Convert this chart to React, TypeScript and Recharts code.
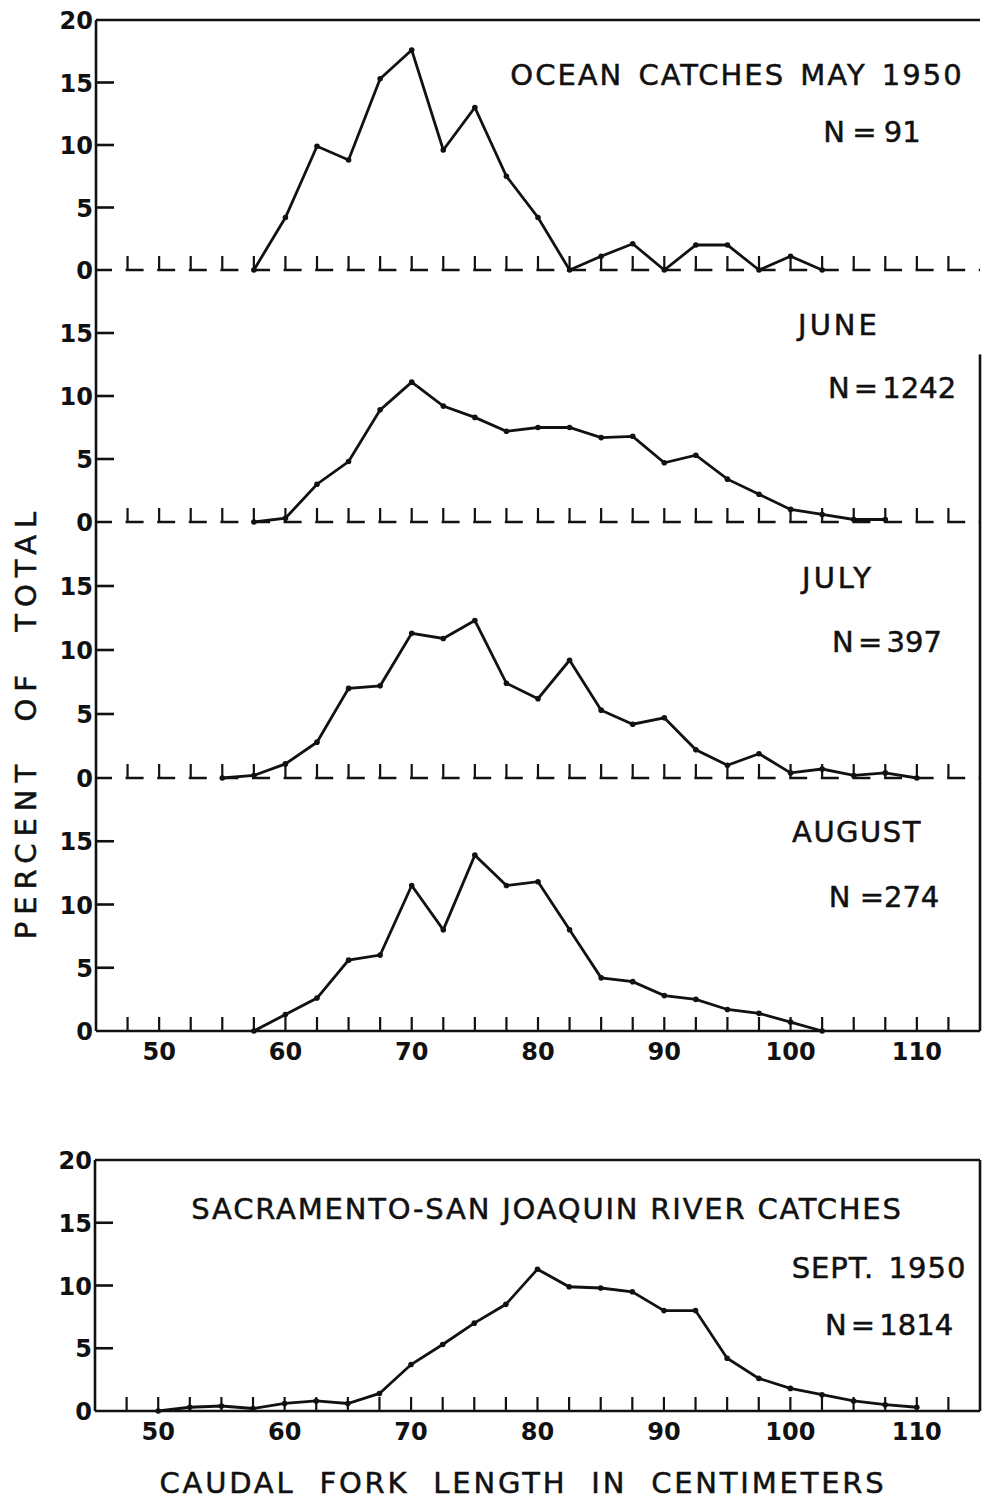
import { LineChart, Line, XAxis, YAxis, ReferenceLine } from "recharts";

const INK = "#111";
const FONT = "'DejaVu Sans', sans-serif";

// fork length classes (cm) and percent of total, by month
const mayLen = [57.5, 60, 62.5, 65, 67.5, 70, 72.5, 75, 77.5, 80, 82.5, 85, 87.5, 90, 92.5, 95, 97.5, 100, 102.5];
const mayPct = [0, 4.2, 9.9, 8.8, 15.3, 17.6, 9.6, 13.0, 7.5, 4.2, 0, 1.1, 2.1, 0, 2.0, 2.0, 0, 1.1, 0];

const juneLen = [57.5, 60, 62.5, 65, 67.5, 70, 72.5, 75, 77.5, 80, 82.5, 85, 87.5, 90, 92.5, 95, 97.5, 100, 102.5, 105, 107.5];
const junePct = [0, 0.3, 3.0, 4.8, 8.9, 11.1, 9.2, 8.3, 7.2, 7.5, 7.5, 6.7, 6.8, 4.7, 5.3, 3.4, 2.2, 1.0, 0.6, 0.2, 0.2];

const julyLen = [55, 57.5, 60, 62.5, 65, 67.5, 70, 72.5, 75, 77.5, 80, 82.5, 85, 87.5, 90, 92.5, 95, 97.5, 100, 102.5, 105, 107.5, 110];
const julyPct = [0, 0.2, 1.1, 2.8, 7.0, 7.2, 11.3, 10.9, 12.3, 7.4, 6.2, 9.2, 5.3, 4.2, 4.7, 2.2, 1.0, 1.9, 0.4, 0.7, 0.2, 0.4, 0];

const augLen = [57.5, 60, 62.5, 65, 67.5, 70, 72.5, 75, 77.5, 80, 82.5, 85, 87.5, 90, 92.5, 95, 97.5, 100, 102.5];
const augPct = [0, 1.3, 2.6, 5.6, 6.0, 11.5, 8.0, 13.9, 11.5, 11.8, 8.0, 4.2, 3.9, 2.8, 2.5, 1.7, 1.4, 0.7, 0];

const septLen = [50, 52.5, 55, 57.5, 60, 62.5, 65, 67.5, 70, 72.5, 75, 77.5, 80, 82.5, 85, 87.5, 90, 92.5, 95, 97.5, 100, 102.5, 105, 107.5, 110];
const septPct = [0, 0.3, 0.4, 0.2, 0.6, 0.8, 0.6, 1.4, 3.7, 5.3, 7.0, 8.5, 11.3, 9.9, 9.8, 9.5, 8.0, 8.0, 4.2, 2.6, 1.8, 1.3, 0.8, 0.5, 0.3];

const xTicks = [47.5, 50, 52.5, 55, 57.5, 60, 62.5, 65, 67.5, 70, 72.5, 75, 77.5, 80, 82.5, 85, 87.5, 90, 92.5, 95, 97.5, 100, 102.5, 105, 107.5, 110, 112.5];
const xLabels = [50, 60, 70, 80, 90, 100, 110];
const yTicksFull = [0, 5, 10, 15, 20];
const yTicks = [0, 5, 10, 15];

const M_TOP = 12;
const AX_H = 44;

function XTick(props: any) {
  const { x, y, payload, labels } = props;
  const v = payload.value;
  return (
    <g>
      <line x1={x} x2={x} y1={y} y2={y - 14} stroke={INK} strokeWidth={2.2} />
      {labels && xLabels.includes(v) && (
        <text x={x} y={y + 29} textAnchor="middle" fontSize={24} fontWeight="bold" fontFamily={FONT} fill={INK}>
          {v}
        </text>
      )}
    </g>
  );
}

function YTick(props: any) {
  const { x, y, payload } = props;
  const v = payload.value;
  return (
    <g>
      <text x={x} y={y + 9} textAnchor="end" fontSize={24} fontWeight="bold" fontFamily={FONT} fill={INK}>
        {v}
      </text>
      {v > 0 && v < 20 && <line x1={x + 3} x2={x + 21} y1={y} y2={y} stroke={INK} strokeWidth={2.6} />}
    </g>
  );
}

type PanelProps = {
  len: number[];
  pct: number[];
  top: number;
  bottom: number;
  left?: number;
  ticks: number[];
  dashed?: boolean;
  labels?: boolean;
  frameTop?: boolean;
  rightFrom?: number | null;
};

function Panel({ len, pct, top, bottom, left = 96, ticks, dashed, labels, frameTop, rightFrom }: PanelProps) {
  const rows = len.map((l, i) => ({ len: l, pct: pct[i] }));
  const axisLine = dashed
    ? { stroke: INK, strokeWidth: 2.4, strokeDasharray: "18 13.6", strokeDashoffset: 2 }
    : { stroke: INK, strokeWidth: 2.6 };
  return (
    <div style={{ position: "absolute", left: 0, top: top - M_TOP }}>
      <LineChart
        width={983}
        height={M_TOP + (bottom - top) + AX_H}
        data={rows}
        margin={{ top: M_TOP, right: 3, bottom: 0, left: 0 }}
      >
        <XAxis
          type="number"
          dataKey="len"
          domain={[45, 115]}
          ticks={xTicks}
          interval={0}
          tickSize={0}
          tickMargin={0}
          height={AX_H}
          axisLine={axisLine}
          tickLine={false}
          tick={<XTick labels={labels} />}
        />
        <YAxis
          type="number"
          domain={[0, 20]}
          ticks={ticks}
          interval={0}
          width={left}
          tickSize={0}
          tickMargin={3}
          axisLine={{ stroke: INK, strokeWidth: 2.6 }}
          tickLine={false}
          tick={<YTick />}
        />
        {frameTop && <ReferenceLine y={20} stroke={INK} strokeWidth={2.6} />}
        {rightFrom != null && (
          <ReferenceLine
            segment={[
              { x: 115, y: rightFrom },
              { x: 115, y: 0 },
            ]}
            stroke={INK}
            strokeWidth={2.6}
          />
        )}
        <Line
          type="linear"
          dataKey="pct"
          stroke={INK}
          strokeWidth={2.8}
          dot={{ r: 2.8, fill: INK, stroke: INK, strokeWidth: 0 }}
          isAnimationActive={false}
        />
      </LineChart>
    </div>
  );
}

const txt = { fontFamily: FONT, fontSize: 29, fill: INK, stroke: INK, strokeWidth: 0.5 } as const;

export default function App() {
  return (
    <div style={{ position: "absolute", left: 0, top: 0, width: 983, height: 1500, background: "#fff" }}>
      <Panel len={mayLen} pct={mayPct} top={20} bottom={270} ticks={yTicksFull} dashed frameTop />
      <Panel len={juneLen} pct={junePct} top={270} bottom={522} ticks={yTicks} dashed rightFrom={13.3} />
      <Panel len={julyLen} pct={julyPct} top={522} bottom={778} ticks={yTicks} dashed rightFrom={20} />
      <Panel len={augLen} pct={augPct} top={778} bottom={1031} ticks={yTicks} labels rightFrom={20} />
      <Panel len={septLen} pct={septPct} top={1160} bottom={1411} left={95} ticks={yTicksFull} labels frameTop rightFrom={20} />

      <svg width={983} height={1500} style={{ position: "absolute", left: 0, top: 0, pointerEvents: "none" }}>
        <text x={737} y={85} textAnchor="middle" letterSpacing={2} wordSpacing={4} {...txt}>OCEAN CATCHES MAY 1950</text>
        <text x={872} y={142} textAnchor="middle" wordSpacing={-2} {...txt}>N = 91</text>
        <text x={839} y={335} textAnchor="middle" letterSpacing={3} {...txt}>JUNE</text>
        <text x={892} y={398} textAnchor="middle" wordSpacing={-5} {...txt}>N = 1242</text>
        <text x={838} y={588} textAnchor="middle" letterSpacing={3} {...txt}>JULY</text>
        <text x={887} y={652} textAnchor="middle" wordSpacing={-5} {...txt}>N = 397</text>
        <text x={857} y={842} textAnchor="middle" letterSpacing={1.5} {...txt}>AUGUST</text>
        <text x={884} y={907} textAnchor="middle" {...txt}>N =274</text>
        <text x={547} y={1219} textAnchor="middle" letterSpacing={1.8} {...txt}>SACRAMENTO-SAN JOAQUIN RIVER CATCHES</text>
        <text x={879} y={1278} textAnchor="middle" letterSpacing={1} wordSpacing={4} {...txt}>SEPT. 1950</text>
        <text x={889} y={1335} textAnchor="middle" wordSpacing={-5} {...txt}>N = 1814</text>
        <text x={523} y={1493} textAnchor="middle" letterSpacing={2.8} wordSpacing={12} {...txt}>CAUDAL FORK LENGTH IN CENTIMETERS</text>
        <text
          x={0}
          y={0}
          transform="translate(36 722) rotate(-90)"
          textAnchor="middle"
          letterSpacing={7}
          wordSpacing={20}
          {...txt}
        >
          PERCENT OF TOTAL
        </text>
      </svg>
    </div>
  );
}
